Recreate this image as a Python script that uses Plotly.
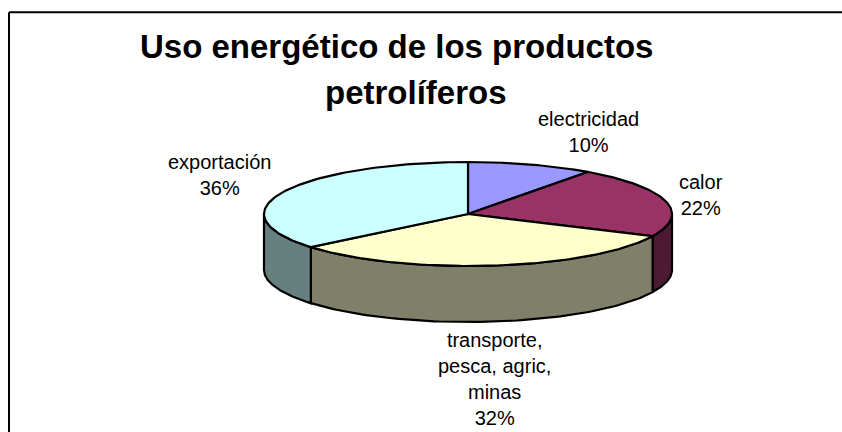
import numpy as np
import plotly.graph_objects as go

# ---- data ----
categories = ["electricidad", "calor", "transporte,<br>pesca, agric,<br>minas", "exportación"]
values = [10, 22, 32, 36]
title_lines = ["Uso energético de los productos", "petrolíferos"]

# ---- styles / layout ----
top_colors = ["#9999FF", "#993366", "#FFFFCC", "#CCFFFF"]
side_colors = ["#4C4C80", "#4D1A33", "#80806A", "#668080"]
label_xy = [(588, 132), (701, 195), (494, 379), (219, 175)]
title_xy = [(396, 46), (416, 92)]
W, H = 842, 432
cx, cy, rx, ry, depth = 468.0, 214.0, 204.0, 52.0, 56.0
FONT = "Arial, Liberation Sans, sans-serif"


def ell(theta_deg, dy=0.0):
    t = np.radians(theta_deg)
    return cx + rx * np.sin(t), cy - ry * np.cos(t) + dy


total = float(sum(values))
angles = np.concatenate([[0.0], np.cumsum(values) / total * 360.0])

fig = go.Figure()

# side walls (visible front half: 90..270 degrees clockwise from 12 o'clock)
for i in range(len(values)):
    lo, hi = max(angles[i], 90.0), min(angles[i + 1], 270.0)
    if hi <= lo:
        continue
    th = np.linspace(lo, hi, 80)
    xt, yt = ell(th)
    xb, yb = ell(th[::-1], depth)
    xs = np.concatenate([xt, xb, xt[:1]])
    ys = np.concatenate([yt, yb, yt[:1]])
    fig.add_trace(go.Scatter(x=xs, y=ys, mode="lines", fill="toself",
                             fillcolor=side_colors[i],
                             line=dict(color="black", width=2.2),
                             hoverinfo="skip", showlegend=False))

# top faces
for i in range(len(values)):
    th = np.linspace(angles[i], angles[i + 1], 120)
    xa, ya = ell(th)
    xs = np.concatenate([[cx], xa, [cx]])
    ys = np.concatenate([[cy], ya, [cy]])
    fig.add_trace(go.Scatter(x=xs, y=ys, mode="lines", fill="toself",
                             fillcolor=top_colors[i],
                             line=dict(color="black", width=2.2),
                             hoverinfo="skip", showlegend=False))

# data labels
for i, (lab, v) in enumerate(zip(categories, values)):
    pct = round(v / total * 100)
    fig.add_annotation(x=label_xy[i][0], y=label_xy[i][1], xref="x", yref="y",
                       text=f"{lab}<br>{pct}%", showarrow=False,
                       font=dict(family=FONT, size=20, color="black"),
                       align="center", xanchor="center", yanchor="middle")

# title
for (tx, ty), line in zip(title_xy, title_lines):
    fig.add_annotation(x=tx, y=ty, xref="x", yref="y", text=f"<b>{line}</b>",
                       showarrow=False, xanchor="center", yanchor="middle",
                       font=dict(family=FONT, size=33, color="black"))

# chart area border: only top and left edges fall inside the window
fig.add_shape(type="line", xref="x", yref="y", x0=9, y0=12.3, x1=W + 40, y1=12.3,
              line=dict(color="black", width=2), layer="above")
fig.add_shape(type="line", xref="x", yref="y", x0=9, y0=12.3, x1=9, y1=H + 40,
              line=dict(color="black", width=2), layer="above")

fig.update_layout(
    width=W, height=H,
    margin=dict(l=0, r=0, t=0, b=0),
    paper_bgcolor="white", plot_bgcolor="white",
    xaxis=dict(range=[0, W], visible=False, fixedrange=True),
    yaxis=dict(range=[H, 0], visible=False, fixedrange=True),
    showlegend=False,
)

fig.write_html(
    "out.html",
    config={"displayModeBar": False},
    post_script=("document.documentElement.style.overflow='hidden';"
                 "document.body.style.margin='0';"
                 "document.body.style.overflow='hidden';"),
)
